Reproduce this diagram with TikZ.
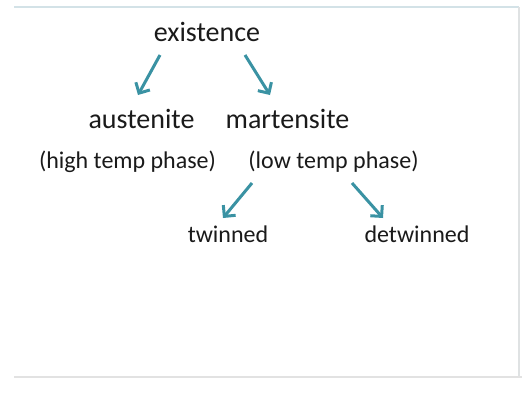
\documentclass[tikz,border=0pt]{standalone}
\usepackage{fontspec}
\setmainfont{Carlito}
\usetikzlibrary{arrows.meta}
\definecolor{arrowteal}{HTML}{3A92A3}
\definecolor{frametop}{HTML}{D3E2E7}
\definecolor{framebot}{HTML}{E2E2E2}
\definecolor{textdark}{HTML}{1A1A1A}
\tikzset{
  lbl/.style={font=\fontsize{24}{27}\selectfont, anchor=base, inner sep=0pt, text=textdark},
  biglbl/.style={lbl, font=\fontsize{28}{31}\selectfont},
  arr/.style={draw=arrowteal, line width=3pt, -{Straight Barb[length=8pt,width=16pt,line width=3pt]}},
}
\begin{document}
\begin{tikzpicture}[x=1pt,y=-1pt]
\useasboundingbox (0,0) rectangle (527,394);
\fill[white] (0,0) rectangle (527,394);
% frame
\draw[frametop, line width=1.4pt] (14,7) -- (519,7);
\draw[framebot!80!frametop, line width=1.2pt] (519,7) -- (519,377);
\draw[framebot, line width=1.2pt] (14,377) -- (522,377);
% labels
\node[biglbl] (ex) at (207,41) {existence};
\node[biglbl] (au) at (141.5,128) {austenite};
\node[biglbl] (ma) at (287.5,128) {martensite};
\node[lbl] (hi) at (127.5,168) {(high temp phase)};
\node[lbl] (lo) at (333.5,168) {(low temp phase)};
\node[lbl] (tw) at (228,242) {twinned};
\node[lbl] (de) at (417,242) {detwinned};
% arrow end points
\coordinate (a1s) at (160,55);  \coordinate (a1e) at (138,95);
\coordinate (a2s) at (245,55);  \coordinate (a2e) at (270,95);
\coordinate (a3s) at (252,183); \coordinate (a3e) at (223,218);
\coordinate (a4s) at (352,183); \coordinate (a4e) at (383,218);
\draw[arr] (a1s) -- (a1e);
\draw[arr] (a2s) -- (a2e);
\draw[arr] (a3s) -- (a3e);
\draw[arr] (a4s) -- (a4e);
\end{tikzpicture}
\end{document}
